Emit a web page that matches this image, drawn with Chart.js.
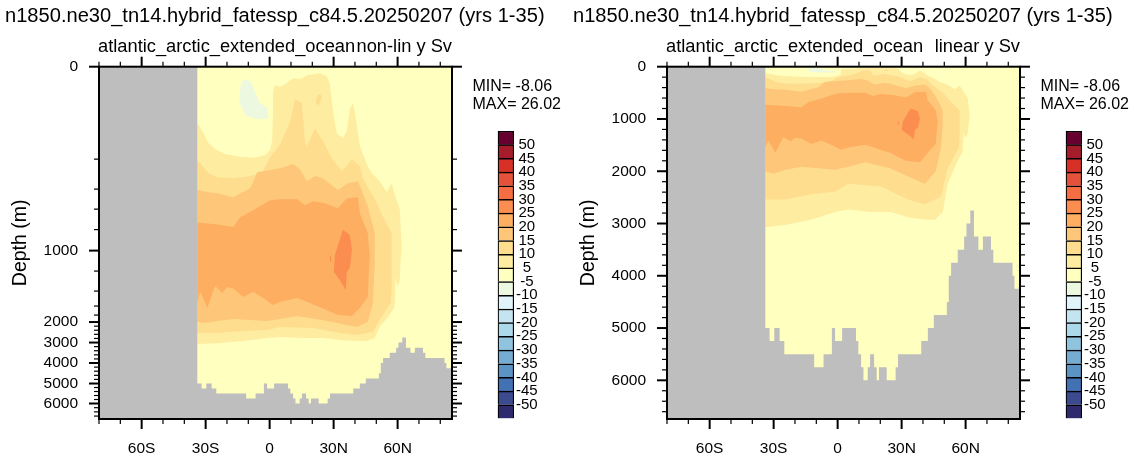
<!DOCTYPE html>
<html><head><meta charset="utf-8">
<script src="https://cdn.jsdelivr.net/npm/chart.js@4/dist/chart.umd.js"></script>
<style>
html,body{margin:0;padding:0;background:#fff;width:1134px;height:459px;overflow:hidden}
canvas{position:absolute;display:block}
</style></head><body>
<canvas id="panelA" width="566" height="459" style="left:0;top:0"></canvas>
<canvas id="panelB" width="566" height="459" style="left:568px;top:0"></canvas>
<canvas id="barA" width="90" height="310" style="left:470px;top:120px"></canvas>
<canvas id="barB" width="90" height="310" style="left:1038px;top:120px"></canvas>
<script>
// ---------- data (latitude in degrees, depth in metres) ----------
const runTitle = 'n1850.ne30_tn14.hybrid_fatessp_c84.5.20250207 (yrs 1-35)';
const basinName = 'atlantic_arctic_extended_ocean';
const statLines = ['MIN= -8.06', 'MAX= 26.02'];
const colorbarLabels = ['-50','-45','-40','-35','-30','-25','-20','-15','-10','-5','5','10','15','20','25','30','35','40','45','50'];
const colorbarColors = ['#2f2a6e','#3c4a8f','#4272b4','#5b93c5','#74add1','#8fc3de','#abd9e9','#c4e4ef','#e0f3f8','#edf8e0','#ffffbf','#feeda1','#fedd8f','#fec679','#fdae61','#fb8d50','#f46d43','#e5523b','#d73027','#a51c2a','#67002f'];

const seafloorLat = [-80,-33.9,-31.9,-29.7,-27.2,-25,-11,-6.6,-2.7,-1.2,2.1,8.6,9.7,11,12.1,14.1,15.2,17.1,18.3,19.4,23,27.2,28.3,39.2,42.3,45.1,51.2,52.1,53.2,56.3,59.3,60.4,62.2,63.9,66,68.1,71.9,73,82,82.9,85.5];
const seafloorDepth = [0,5000,5250,5000,5250,5500,5750,5500,5000,5250,5000,5250,5500,5750,6000,5750,5500,5750,6000,5750,6000,5750,5500,5250,5000,4750,4500,4000,3750,3500,3250,3000,2750,3250,3500,3250,3500,3750,4000,4250,4250];

const level5Lat = [-33.9,-31,-28.7,-25,-20.8,-13.8,-6.8,-2,0.2,1.2,1.6,1.6,2.6,4.9,7.2,11,14.3,18,23.6,26.9,28.3,29.2,30.6,31.5,34.3,36.2,37.6,39,40,42.3,46,47.9,51.6,54.9,57.2,58.6,61,61.9,61.4,61,60,59.1,58.6,56.3,51.6,49.3,45.6,40.9,32.9,25,15.7,4.9,-1.2,-12.4,-24.5,-33.9];
const level5Depth = [122,144,165,180,189,195,197,191,180,159,94,51,40,44,38,25,27,18,14,21,38,79,122,144,155,139,92,79,100,172,247,293,347,430,360,450,600,957,1110,1290,1360,1270,1620,1800,2240,2780,2930,2930,2880,2780,2780,2730,2780,2930,3030,3070];

const level10Lat = [-33.9,-32.5,-28.7,-24.5,-17,-9,-3.5,0.2,4.9,7.2,9.6,11.9,15.2,16.6,17.5,21.3,25.9,29.2,33.9,38.6,42.3,43.7,49.3,53,57.2,57.2,57.2,56.8,51.6,48.4,40.9,32.9,20.3,4.9,-1.2,-12.4,-24.5,-33.9];
const level10Depth = [207,227,293,320,327,313,287,196,168,144,118,70,79,165,172,133,168,198,280,200,247,327,500,670,833,1130,1390,1560,1943,2490,2630,2540,2290,2240,2390,2440,2540,2540];
const level10SpotLat = [21.8,22.8,24.4,24.2,22.9,21.8];
const level10SpotDepth = [70,60,62,72,84,80];

const level15Lat = [-33.9,-28.7,-24.5,-17,-9,-5.8,4.9,11,14.3,17.5,21.3,25,32,36.7,41.4,43.7,46,49.3,49.3,48.4,46,40.9,24.5,12.9,4.9,-1.2,-17,-24.5,-30.1,-33.9];
const level15Depth = [410,430,440,480,393,287,260,233,267,347,313,327,410,360,347,440,570,833,1130,1560,2000,2240,1943,1830,1915,1970,1915,1970,2050,2000];

const level20Lat = [-33.9,-24.5,-17,-13.8,-7.7,0.2,4.9,12.9,16.6,20.3,25.9,32,36.2,41.4,42.3,46,46.5,47,46.5,46,42.3,38.6,32,24.5,12.9,4.9,1.6,-3,-7.7,-12.4,-17,-19.9,-22.2,-25.5,-29.2,-32.5,-33.9];
const level20Depth = [730,750,775,680,610,510,500,500,560,520,540,590,490,480,640,833,957,1050,1220,1480,1644,1830,1800,1644,1493,1546,1587,1493,1413,1480,1373,1360,1427,1347,1644,1413,1546];

const level25Lat = [34.3,37.6,38.6,37.6,36.2,35.7,32.9,30.1,30.6,32];
const level25Depth = [802,852,995,1170,1210,1390,1290,1210,1044,948];
const level25SpotLat = [28.2,28.7,28.9,28.4];
const level25SpotDepth = [1060,1044,1110,1110];

const minusBlobLat = [-11.4,-8.7,-6.9,-4.5,-1,-0.8,-6,-11.4,-14.1,-13.8,-12.7];
const minusBlobDepth = [27,33,55,79,89,112,113,105,79,46,31];

const latTicks = [-80,-70,-60,-50,-40,-30,-20,-10,0,10,20,30,40,50,60,70,80];
const latMajor = [-60,-30,0,30,60];
const depthTicks = [];
for (let d = 0; d <= 6600; d += 200) depthTicks.push(d);
// irregular depth axis of the non-linear panel: depth -> fraction of axis height
const warpDepth = [0,200,400,600,800,1000,1200,1400,1600,1800,2000,3000,4000,5000,6000,6740];
const warpFrac  = [0,.2624,.3475,.4043,.4624,.5220,.5801,.6369,.6794,.7050,.7248,.7830,.8411,.8993,.9560,1];

const LAND = '#bebebe', OCEAN = '#ffffbf', INK = '#000';
const FAMILY = '"Liberation Sans", Arial, sans-serif';
Chart.defaults.font.family = FAMILY;
Chart.defaults.color = INK;
Chart.defaults.animation = false;

class WarpedDepthScale extends Chart.LinearScale {
  static id = 'warpedDepth';
  static defaults = {};
  getPixelForValue(v) {
    let f = 1;
    for (let i = 1; i < warpDepth.length; i++) {
      if (v <= warpDepth[i]) {
        f = warpFrac[i-1] + (v - warpDepth[i-1]) / (warpDepth[i] - warpDepth[i-1]) * (warpFrac[i] - warpFrac[i-1]);
        break;
      }
    }
    return this.top + f * this.height;
  }
  getValueForPixel(p) {
    const f = (p - this.top) / this.height;
    for (let i = 1; i < warpFrac.length; i++) {
      if (f <= warpFrac[i]) return warpDepth[i-1] + (f - warpFrac[i-1]) / (warpFrac[i] - warpFrac[i-1]) * (warpDepth[i] - warpDepth[i-1]);
    }
    return 6740;
  }
}
Chart.register(WarpedDepthScale);

const zip = (xs, ys) => xs.map((x, i) => ({x, y: ys[i]}));
function seafloorOutline() {
  const pts = [];
  seafloorLat.forEach((lat, i) => {
    if (i > 0) pts.push({x: lat, y: seafloorDepth[i-1]});
    pts.push({x: lat, y: seafloorDepth[i]});
  });
  pts.push({x: 85.5, y: 6740}, {x: -80, y: 6740});
  return pts;
}
const poly = (data, color) => ({data, backgroundColor: color, borderWidth: 0, pointRadius: 0, showLine: false});
const polygons = () => [
  poly(zip(minusBlobLat, minusBlobDepth), '#edf8e0'),
  poly(zip(level5Lat, level5Depth), '#feeda1'),
  poly(zip(level10Lat, level10Depth), '#fedd8f'),
  poly(zip(level10SpotLat, level10SpotDepth), '#fedd8f'),
  poly(zip(level15Lat, level15Depth), '#fec679'),
  poly(zip(level20Lat, level20Depth), '#fdae61'),
  poly(zip(level25Lat, level25Depth), '#fb8d50'),
  poly(zip(level25SpotLat, level25SpotDepth), '#fb8d50'),
  poly(seafloorOutline(), LAND)
];

const areaFill = {
  id: 'areaFill',
  beforeDatasetsDraw(chart) {
    const {ctx, chartArea: a} = chart;
    ctx.save();
    ctx.beginPath(); ctx.rect(a.left, a.top, a.width, a.height); ctx.clip();
    ctx.fillStyle = OCEAN; ctx.fillRect(a.left, a.top, a.width, a.height);
    chart.data.datasets.forEach((ds, i) => {
      const pts = chart.getDatasetMeta(i).data;
      ctx.beginPath();
      pts.forEach((p, k) => k ? ctx.lineTo(p.x, p.y) : ctx.moveTo(p.x, p.y));
      ctx.closePath();
      ctx.fillStyle = ds.backgroundColor;
      ctx.fill();
    });
    ctx.restore();
  }
};
const frameTicks = {
  id: 'frameTicks',
  afterDatasetsDraw(chart) {
    const {ctx, chartArea: a, scales: {x, y}} = chart;
    ctx.save();
    ctx.strokeStyle = INK;
    const seg = (x0, y0, x1, y1, w) => { ctx.lineWidth = w; ctx.beginPath(); ctx.moveTo(x0, y0); ctx.lineTo(x1, y1); ctx.stroke(); };
    x.ticks.forEach(t => {
      const p = x.getPixelForValue(t.value), len = t.major ? 10 : 5, w = t.major ? 2 : 1.2;
      seg(p, a.top, p, a.top - len, w); seg(p, a.bottom, p, a.bottom + len, w);
    });
    y.ticks.forEach(t => {
      const p = y.getPixelForValue(t.value), len = t.major ? 10 : 5, w = t.major ? 2 : 1.2;
      seg(a.left, p, a.left - len, p, w); seg(a.right, p, a.right + len, p, w);
    });
    ctx.lineWidth = 2; ctx.strokeRect(a.left, a.top, a.width, a.height);
    ctx.restore();
  }
};
const captions = {
  id: 'captions',
  afterDraw(chart) {
    const {ctx, chartArea: a} = chart, o = chart.options.plugins.captions;
    ctx.save();
    ctx.fillStyle = INK; ctx.textBaseline = 'alphabetic';
    ctx.textAlign = 'left';
    ctx.font = '20.1px ' + FAMILY; ctx.fillText(runTitle, 5, 21.7);
    ctx.font = '18.3px ' + FAMILY; ctx.fillText(basinName, a.left - 1, 51.7);
    ctx.textAlign = 'right'; ctx.fillText(o.tag, a.right, 51.7);
    ctx.textAlign = 'left';
    ctx.font = '16px ' + FAMILY;
    ctx.fillText(statLines[0], a.right + 20.5, 91);
    ctx.fillText(statLines[1], a.right + 20.5, 109);
    ctx.restore();
  }
};
function panel(id, tag, yType) {
  return new Chart(document.getElementById(id), {
    type: 'scatter',
    data: {datasets: polygons()},
    plugins: [areaFill, frameTicks, captions],
    options: {
      responsive: false, animation: false, events: [],
      layout: {padding: {top: 66.7, right: 114, bottom: 0, left: 0}},
      plugins: {legend: {display: false}, tooltip: {enabled: false}, captions: {tag}},
      scales: {
        x: {
          type: 'linear', min: -80, max: 85.5,
          grid: {display: false, drawTicks: false}, border: {display: false},
          afterBuildTicks: s => { s.ticks = latTicks.map(v => ({value: v, major: latMajor.includes(v)})); },
          afterFit: s => { s.height = 40; },
          ticks: {autoSkip: false, maxRotation: 0, padding: 20, font: {size: 15.5},
            callback: v => !latMajor.includes(v) ? '' : v === 0 ? '0' : v < 0 ? (-v) + 'S' : v + 'N'}
        },
        y: {
          type: yType, reverse: yType === 'linear', min: 0, max: 6740,
          grid: {display: false, drawTicks: false}, border: {display: false},
          afterBuildTicks: s => { s.ticks = depthTicks.map(v => ({value: v, major: v % 1000 === 0})); },
          afterFit: s => { s.width = 99; },
          title: {display: true, text: 'Depth (m)', font: {size: 19.5}, padding: {top: 9, bottom: 0}},
          ticks: {autoSkip: false, padding: 21, font: {size: 15.5},
            callback: v => v % 1000 === 0 ? String(v) : ''}
        }
      }
    }
  });
}
function colorbar(id) {
  return new Chart(document.getElementById(id), {
    type: 'bar',
    data: {labels: [''], datasets: colorbarColors.map(c => ({data: [1], backgroundColor: c, borderColor: INK, borderWidth: 1.5, barPercentage: 1, categoryPercentage: 1}))},
    options: {
      responsive: false, animation: false, events: [],
      layout: {padding: {top: 11, right: 0, bottom: 11.5, left: 27.7}},
      plugins: {legend: {display: false}, tooltip: {enabled: false}},
      scales: {
        x: {stacked: true, display: false},
        y: {
          stacked: true, position: 'right', min: 0, max: 21,
          grid: {display: false, drawTicks: false}, border: {display: false},
          afterBuildTicks: s => { s.ticks = colorbarLabels.map((_, i) => ({value: i + 1})); },
          afterFit: s => { s.width = 46; },
          ticks: {autoSkip: false, padding: 2, crossAlign: 'center', font: {size: 15},
            callback: v => colorbarLabels[v - 1]}
        }
      }
    }
  });
}
panel('panelA', 'non-lin y Sv', 'warpedDepth');
panel('panelB', 'linear y Sv', 'linear');
colorbar('barA');
colorbar('barB');
</script>
</body></html>
